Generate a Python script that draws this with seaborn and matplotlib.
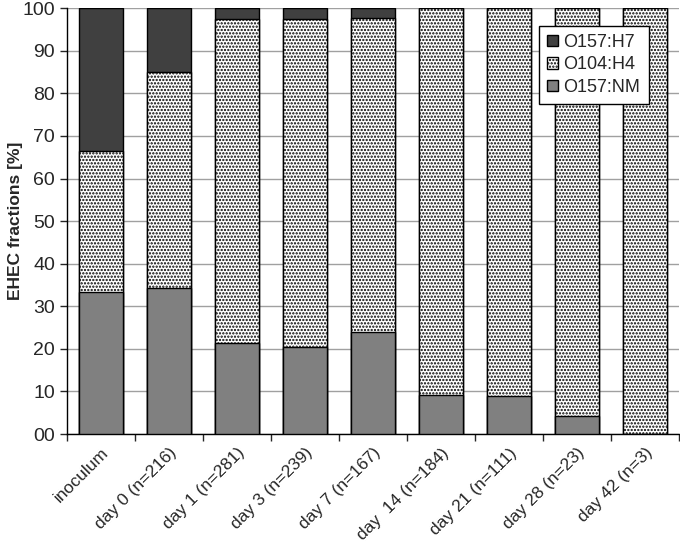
import numpy as np
import pandas as pd
import matplotlib
matplotlib.use("Agg")
from matplotlib import pyplot as plt
from matplotlib.patches import Patch
import seaborn as sb

# Sample groups and strain fractions (%)
groups = ["inoculum", "day 0 (n=216)", "day 1 (n=281)", "day 3 (n=239)", "day 7 (n=167)",
          "day  14 (n=184)", "day 21 (n=111)", "day 28 (n=23)", "day 42 (n=3)"]
o157_nm = [33.3, 34.2, 21.5, 20.5, 24.0, 9.2, 9.0, 4.3, 0.0]
o104_h4 = [33.1, 50.8, 76.0, 77.0, 73.8, 90.8, 91.0, 95.7, 100.0]
o157_h7 = [33.6, 15.0, 2.5, 2.5, 2.2, 0.0, 0.0, 0.0, 0.0]
ytick_labels = ["00", "10", "20", "30", "40", "50", "60", "70", "80", "90", "100"]

df = pd.DataFrame({"group": groups, "nm": o157_nm, "h4": o104_h4, "h7": o157_h7})
df["top_h4"] = df["nm"] + df["h4"]
df["top_h7"] = df["top_h4"] + df["h7"]

sb.set_style("white")
plt.rcParams["font.family"] = ["Liberation Sans", "DejaVu Sans"]
plt.rcParams["hatch.linewidth"] = 1.1

fig = plt.figure(figsize=(6.8, 5.46), dpi=100)
ax = fig.add_axes([0.0985, 0.205, 0.9, 0.78])

# stacked bars drawn as cumulative totals, back to front
sb.barplot(data=df, x="group", y="top_h7", ax=ax, color="#404040", width=0.66,
           edgecolor="black", linewidth=1, saturation=1, zorder=3)
n0 = len(ax.patches)
sb.barplot(data=df, x="group", y="top_h4", ax=ax, color="white", width=0.66,
           edgecolor="black", linewidth=1, saturation=1, zorder=3)
for p in ax.patches[n0:]:
    p.set_hatch(".....")
sb.barplot(data=df, x="group", y="nm", ax=ax, color="#808080", width=0.66,
           edgecolor="black", linewidth=1, saturation=1, zorder=3)

ax.set_ylim(0, 100)
ax.set_xlim(-0.5, len(groups) - 0.5)
ax.set_yticks(np.arange(0, 101, 10))
ax.set_yticklabels(ytick_labels, fontsize=14)
ax.yaxis.grid(True, color="#a0a0a0", linewidth=1, zorder=0)
ax.set_axisbelow(True)

# ticks between categories, labels at centres
ax.set_xticks(np.arange(-0.5, len(groups), 1))
ax.set_xticklabels([""] * (len(groups) + 1))
ax.set_xticks(np.arange(len(groups)), minor=True)
ax.set_xticklabels(groups, minor=True, rotation=45, ha="right",
                   rotation_mode="anchor", fontsize=12.5)
ax.tick_params(axis="x", which="minor", length=0, pad=8)
ax.tick_params(axis="x", which="major", length=5, width=1, direction="out", bottom=True)
ax.tick_params(axis="y", length=5, width=1, direction="out", left=True)
ax.set_xlabel("")
ax.set_ylabel("EHEC fractions [%]", fontsize=12.5, fontweight="bold")
ax.yaxis.set_label_coords(-0.072, 0.5)

for s in ["top", "right"]:
    ax.spines[s].set_visible(False)
for s in ["left", "bottom"]:
    ax.spines[s].set_color("black")
    ax.spines[s].set_linewidth(1)

handles = [Patch(facecolor="#404040", edgecolor="black", label="O157:H7"),
           Patch(facecolor="white", edgecolor="black", hatch=".....", label="O104:H4"),
           Patch(facecolor="#808080", edgecolor="black", label="O157:NM")]
leg = ax.legend(handles=handles, loc="upper right", bbox_to_anchor=(0.965, 0.98),
                fontsize=13, frameon=True, fancybox=False, framealpha=1,
                edgecolor="black", handlelength=0.6, handleheight=0.6,
                handletextpad=0.3, borderpad=0.45, labelspacing=0.3)
leg.get_frame().set_linewidth(1)

fig.savefig("out.png", dpi=100)
